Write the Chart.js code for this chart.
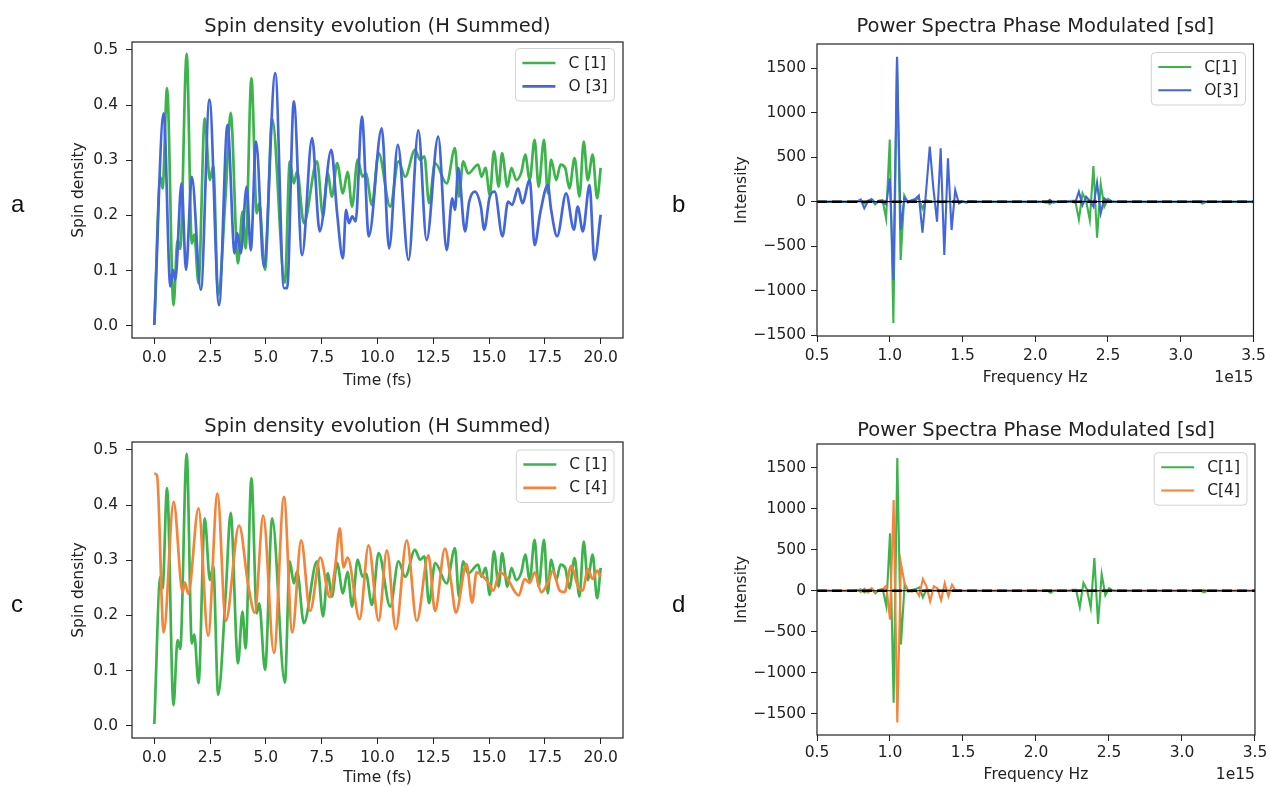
<!DOCTYPE html>
<html><head><meta charset="utf-8">
<script src="https://cdn.jsdelivr.net/npm/chart.js@4.4.0/dist/chart.umd.min.js"></script>
<style>
html,body{margin:0;padding:0;background:#fff;overflow:hidden;width:1270px;height:787px;}
.w{position:absolute;}
.w canvas{display:block;}
.lt{position:absolute;font-family:"Liberation Sans",Arial,sans-serif;font-size:24px;line-height:1;color:#111;}
</style></head><body>
<div class="w" style="left:0;top:0;width:640px;height:395px"><canvas id="ca" width="640" height="395"></canvas></div>
<div class="w" style="left:680px;top:0;width:590px;height:395px"><canvas id="cb" width="590" height="395"></canvas></div>
<div class="w" style="left:0;top:400px;width:640px;height:395px"><canvas id="cc" width="640" height="395"></canvas></div>
<div class="w" style="left:680px;top:400px;width:590px;height:395px"><canvas id="cd" width="590" height="395"></canvas></div>
<div class="lt" style="left:11px;top:192px">a</div>
<div class="lt" style="left:672px;top:192px">b</div>
<div class="lt" style="left:11px;top:592px">c</div>
<div class="lt" style="left:672px;top:592px">d</div>
<script>
// ---------- tick labels ----------
const timeTicks = [0, 2.5, 5, 7.5, 10, 12.5, 15, 17.5, 20];
const spinTicks = [0, 0.1, 0.2, 0.3, 0.4, 0.5];
const freqTicks = [0.5, 1.0, 1.5, 2.0, 2.5, 3.0, 3.5];
const intensityTicks = [-1500, -1000, -500, 0, 500, 1000, 1500];

// ---------- spin density time series (time in fs) ----------
const c1Time = [0, 0.27, 0.37, 0.57, 0.86, 1.04, 1.16, 1.45, 1.68, 1.79, 1.98, 2.26, 2.49, 2.64, 2.86, 3.2, 3.42, 3.75, 3.95, 4.09, 4.35, 4.59, 4.7, 4.96, 5.28, 5.85, 6.07, 6.25, 6.4, 6.7, 7.29, 7.56, 7.77, 7.96, 8.19, 8.45, 8.66, 8.86, 9.11, 9.33, 9.48, 9.75, 10.05, 10.57, 10.94, 11.24, 11.68, 11.91, 12.1, 12.31, 12.58, 13.1, 13.47, 13.65, 13.84, 14.06, 14.51, 14.66, 14.84, 15.03, 15.22, 15.43, 15.58, 15.82, 16.0, 16.22, 16.45, 16.62, 16.82, 17.04, 17.22, 17.46, 17.63, 17.78, 18.01, 18.2, 18.41, 18.6, 18.83, 19.05, 19.24, 19.42, 19.64, 19.84, 20.0];
const c1Spin = [0.003, 0.270, 0.249, 0.431, 0.037, 0.155, 0.139, 0.493, 0.149, 0.165, 0.077, 0.376, 0.264, 0.290, 0.056, 0.240, 0.386, 0.113, 0.207, 0.140, 0.449, 0.204, 0.222, 0.101, 0.376, 0.078, 0.298, 0.258, 0.280, 0.186, 0.298, 0.198, 0.276, 0.234, 0.295, 0.240, 0.279, 0.216, 0.301, 0.270, 0.276, 0.219, 0.313, 0.216, 0.298, 0.270, 0.319, 0.301, 0.307, 0.222, 0.295, 0.258, 0.322, 0.234, 0.298, 0.276, 0.292, 0.270, 0.286, 0.237, 0.316, 0.252, 0.313, 0.252, 0.286, 0.264, 0.279, 0.310, 0.264, 0.337, 0.252, 0.337, 0.240, 0.301, 0.264, 0.292, 0.286, 0.249, 0.304, 0.234, 0.334, 0.264, 0.310, 0.231, 0.286];

const o3Time = [0, 0.42, 0.72, 0.835, 0.94, 1.22, 1.42, 1.68, 2.085, 2.47, 2.9, 3.28, 3.6, 3.72, 3.87, 4.14, 4.32, 4.56, 4.91, 5.42, 5.81, 5.95, 6.25, 6.62, 7.07, 7.41, 7.93, 8.19, 8.45, 8.59, 8.72, 8.87, 9.02, 9.3, 9.61, 10.19, 10.52, 10.91, 11.39, 11.83, 12.2, 12.72, 13.1, 13.35, 13.47, 13.62, 13.92, 14.11, 14.36, 14.63, 14.78, 15.03, 15.25, 15.6, 15.85, 16.03, 16.3, 16.49, 16.82, 17.04, 17.29, 17.63, 17.78, 18.05, 18.45, 18.8, 18.97, 19.2, 19.5, 19.72, 20.0];
const o3Spin = [0.001, 0.385, 0.071, 0.101, 0.083, 0.258, 0.101, 0.270, 0.065, 0.410, 0.037, 0.364, 0.131, 0.168, 0.131, 0.252, 0.137, 0.334, 0.107, 0.458, 0.068, 0.068, 0.407, 0.128, 0.340, 0.171, 0.319, 0.204, 0.122, 0.210, 0.186, 0.198, 0.189, 0.379, 0.162, 0.358, 0.140, 0.328, 0.119, 0.354, 0.155, 0.343, 0.137, 0.231, 0.210, 0.286, 0.171, 0.225, 0.243, 0.216, 0.174, 0.234, 0.243, 0.162, 0.225, 0.219, 0.249, 0.222, 0.264, 0.146, 0.204, 0.255, 0.210, 0.162, 0.240, 0.174, 0.216, 0.171, 0.255, 0.119, 0.201];

const c4Time = [0, 0.12, 0.42, 0.865, 1.27, 1.37, 1.52, 1.98, 2.41, 2.83, 3.2, 3.8, 4.2, 4.5, 4.88, 5.36, 5.81, 6.18, 6.58, 6.98, 7.44, 7.86, 8.1, 8.31, 8.48, 8.66, 9.2, 9.6, 10.05, 10.42, 10.82, 11.31, 11.76, 12.28, 12.58, 13.02, 13.29, 13.51, 13.99, 14.24, 14.44, 14.96, 15.19, 15.48, 15.78, 16.33, 16.59, 16.82, 17.04, 17.34, 17.64, 17.86, 18.16, 18.38, 18.68, 18.97, 19.2, 19.42, 19.64, 19.84, 20.0];
const c4Spin = [0.457, 0.454, 0.169, 0.406, 0.242, 0.260, 0.239, 0.394, 0.163, 0.421, 0.190, 0.363, 0.257, 0.205, 0.381, 0.132, 0.415, 0.169, 0.336, 0.208, 0.305, 0.233, 0.287, 0.358, 0.287, 0.305, 0.193, 0.327, 0.190, 0.318, 0.175, 0.336, 0.190, 0.309, 0.208, 0.321, 0.263, 0.205, 0.293, 0.223, 0.278, 0.260, 0.245, 0.278, 0.269, 0.236, 0.266, 0.259, 0.278, 0.242, 0.260, 0.281, 0.245, 0.242, 0.290, 0.254, 0.245, 0.284, 0.266, 0.281, 0.270];

// ---------- phase-modulated power spectra (frequency in 1e15 Hz) ----------
const freq = [0.5, 0.75, 0.775, 0.8, 0.825, 0.85, 0.875, 0.9, 0.925, 0.95, 0.975, 1.0, 1.025, 1.05, 1.075, 1.1, 1.125, 1.15, 1.175, 1.2, 1.225, 1.25, 1.275, 1.3, 1.325, 1.35, 1.375, 1.4, 1.425, 1.45, 1.475, 1.5, 1.525, 1.55, 1.6, 2.05, 2.075, 2.1, 2.125, 2.15, 2.225, 2.25, 2.275, 2.3, 2.325, 2.35, 2.375, 2.4, 2.425, 2.45, 2.475, 2.5, 2.525, 2.55, 3.1, 3.125, 3.15, 3.175, 3.5];
const c1Power = [0, 0, 5, 15, -20, 10, 20, -30, 10, 20, -190, 700, -1365, 1620, -656, 70, -10, 10, 20, 40, -80, 15, 5, 0, 5, -5, 0, 5, 0, 5, 0, 0, 0, 0, 0, 0, 5, -25, 5, 0, 0, 10, 10, -200, 95, 10, -205, 400, -405, 200, -55, 30, 5, 0, 0, 5, -20, 0, 0];
const o3Power = [0, 0, 0, 25, -75, 5, 30, -10, 5, -10, -30, 262, -881, 1631, -319, 40, 0, 15, 30, 70, -349, 120, 619, 150, -225, 600, -600, 488, -319, 131, -20, 5, -10, 5, 0, 0, -10, 20, -10, 0, 5, 0, -10, 113, -38, 56, 10, -56, 214, -131, 38, 5, 0, 0, 0, -5, 5, 0, 0];
const c4Power = [0, 0, 10, -15, 24, -20, 30, -15, 10, 15, 60, -352, 1106, -1608, 336, 93, 0, -10, 10, -61, 142, 53, -130, 53, 30, -117, 93, -69, 73, 0, 5, 0, 0, 0, 0, 0, 0, 5, 0, 0, 0, 0, 0, 5, 0, -5, 0, 5, 0, -5, 0, 0, 0, 0, 0, 5, 10, 0, 0];
const zeroLineFreq = [0.5, 3.5];
const zeroLineVal = [0, 0];

// ---------- styling ----------
const FONT = "'DejaVu Sans', sans-serif";
const GREEN = '#3cb44b', BLUE = '#4466dd', ORANGE = '#f5843a';
const TXT = '#222';

function pts(xs, ys) { return xs.map((x, i) => ({x: x, y: ys[i]})); }
function fmt1(v) { return v.toFixed(1); }
function fmtInt(v) { return v < 0 ? '\u2212' + Math.abs(v) : String(v); }

const mplPlugin = {
  id: 'mpl',
  afterDatasetsDraw(chart, args, opts) {
    const ctx = chart.ctx, a = chart.chartArea;
    ctx.save();
    ctx.strokeStyle = '#222'; ctx.lineWidth = 1.2;
    ctx.strokeRect(a.left, a.top, a.right - a.left, a.bottom - a.top);
    // axes title, centred over the plotting area
    ctx.font = '19.5px ' + FONT; ctx.fillStyle = TXT;
    ctx.textAlign = 'center'; ctx.textBaseline = 'alphabetic';
    ctx.fillText(opts.title, (a.left + a.right) / 2, opts.titleY);
    if (opts.legend) {
      const L = opts.legend;
      ctx.font = '15.5px ' + FONT;
      let tw = 0;
      L.items.forEach(it => { tw = Math.max(tw, ctx.measureText(it.text).width); });
      const w = 7 + 33 + 13 + tw + 7, h = 52.5;
      const x0 = a.right - L.dx - w, y0 = a.top + L.dy;
      ctx.beginPath();
      if (ctx.roundRect) ctx.roundRect(x0, y0, w, h, 4); else ctx.rect(x0, y0, w, h);
      ctx.fillStyle = 'rgba(255,255,255,0.85)'; ctx.fill();
      ctx.strokeStyle = '#d2d2d2'; ctx.lineWidth = 1; ctx.stroke();
      L.items.forEach((it, i) => {
        const yc = y0 + 14.5 + i * 23.3;
        ctx.beginPath(); ctx.moveTo(x0 + 7, yc); ctx.lineTo(x0 + 40, yc);
        ctx.strokeStyle = it.color; ctx.lineWidth = it.lw; ctx.stroke();
        ctx.fillStyle = TXT; ctx.textAlign = 'left'; ctx.textBaseline = 'middle';
        ctx.fillText(it.text, x0 + 53, yc + 0.5);
      });
    }
    if (opts.offsetText) {
      ctx.font = '15.5px ' + FONT; ctx.fillStyle = TXT;
      ctx.textAlign = 'right'; ctx.textBaseline = 'middle';
      ctx.fillText(opts.offsetText, a.right, opts.offsetY);
    }
    ctx.restore();
  }
};

function makeChart(id, c) {
  return new Chart(document.getElementById(id), {
    type: 'line',
    data: {datasets: c.datasets},
    plugins: [mplPlugin],
    options: {
      responsive: false, animation: false, events: [],
      layout: {padding: {left: 0, right: c.padRight, top: c.padTop, bottom: 0}},
      elements: {point: {radius: 0}},
      plugins: {
        legend: {display: false}, tooltip: {enabled: false}, title: {display: false},
        mpl: {legend: c.legend, offsetText: c.offsetText, offsetY: c.offsetY, title: c.title, titleY: c.titleY}
      },
      scales: {
        x: {
          type: 'linear', min: c.xMin, max: c.xMax,
          afterBuildTicks: s => { s.ticks = c.xTicks.map(v => ({value: v})); },
          afterFit: s => { s.height = c.xHeight; },
          ticks: {autoSkip: false, maxRotation: 0, padding: c.xTickPad, color: TXT,
            font: {family: FONT, size: 15.5, lineHeight: 1.2}, callback: v => c.xFmt(v)},
          grid: {display: true, drawOnChartArea: false, drawTicks: true, tickLength: 6, color: '#222', lineWidth: 1},
          border: {display: false},
          title: {display: true, text: c.xTitle, color: TXT,
            font: {family: FONT, size: 15.5, lineHeight: 1.2}, padding: {top: 0, bottom: c.xTitlePad}}
        },
        y: {
          type: 'linear', min: c.yMin, max: c.yMax,
          afterBuildTicks: s => { s.ticks = c.yTicks.map(v => ({value: v})); },
          afterFit: s => { s.width = c.yWidth; },
          ticks: {autoSkip: false, padding: c.yTickPad, color: TXT,
            font: {family: FONT, size: 15.5, lineHeight: 1.2}, callback: v => c.yFmt(v)},
          grid: {display: true, drawOnChartArea: false, drawTicks: true, tickLength: 6, color: '#222', lineWidth: 1},
          border: {display: false},
          title: {display: true, text: c.yTitle, color: TXT,
            font: {family: FONT, size: 15.5, lineHeight: 1.2}, padding: {top: c.yTitlePad, bottom: 0}}
        }
      }
    }
  });
}

function spinSet(label, xs, ys, color, order) {
  return {label: label, data: pts(xs, ys), borderColor: color, borderWidth: 2.7,
    cubicInterpolationMode: 'monotone', fill: false, order: order};
}
function specSet(label, xs, ys, color, order) {
  return {label: label, data: pts(xs, ys), borderColor: color, borderWidth: 2.1,
    tension: 0, fill: false, order: order};
}
function zeroSets() {
  return [
    {label: 'zero', data: pts(zeroLineFreq, zeroLineVal), borderColor: '#000', borderWidth: 1.2, order: 1},
    {label: 'zero dashed', data: pts(zeroLineFreq, zeroLineVal), borderColor: '#000', borderWidth: 2.4, borderDash: [10, 5], order: 0}
  ];
}

const spinBase = {xMin: -1, xMax: 21, yMin: -0.0225, yMax: 0.5145, xTicks: timeTicks, yTicks: spinTicks,
  xFmt: fmt1, yFmt: fmt1, title: 'Spin density evolution (H Summed)', xTitle: 'Time (fs)', yTitle: 'Spin density',
  padRight: 17, padTop: 42, titleY: 31.5, yWidth: 132, xHeight: 57, yTitlePad: 69.7, yTickPad: 8, xTickPad: 5};
const specBase = {xMin: 0.5, xMax: 3.5, xTicks: freqTicks, yTicks: intensityTicks,
  xFmt: fmt1, yFmt: fmtInt, title: 'Power Spectra Phase Modulated [sd]', xTitle: 'Frequency Hz', yTitle: 'Intensity',
  padRight: 13, padTop: 44, yWidth: 137, yTitlePad: 52.4, yTickPad: 5, offsetText: '1e15'};

makeChart('ca', Object.assign({}, spinBase, {
  xTitlePad: 4.7,
  datasets: [spinSet('C [1]', c1Time, c1Spin, GREEN, 2), spinSet('O [3]', o3Time, o3Spin, BLUE, 1)],
  legend: {dx: 8.5, dy: 6.5, items: [{text: 'C [1]', color: GREEN, lw: 2.7}, {text: 'O [3]', color: BLUE, lw: 2.7}]}
}));
makeChart('cc', Object.assign({}, spinBase, {
  xTitlePad: 7.7,
  datasets: [spinSet('C [1]', c1Time, c1Spin, GREEN, 2), spinSet('C [4]', c4Time, c4Spin, ORANGE, 1)],
  legend: {dx: 9, dy: 8, items: [{text: 'C [1]', color: GREEN, lw: 2.7}, {text: 'C [4]', color: ORANGE, lw: 2.7}]}
}));
makeChart('cb', Object.assign({}, specBase, {
  yMin: -1511, yMax: 1774, xHeight: 59, xTitlePad: 7.7, xTickPad: 4.2, offsetY: 378, titleY: 31.5,
  datasets: [specSet('C[1]', freq, c1Power, GREEN, 3), specSet('O[3]', freq, o3Power, BLUE, 2)].concat(zeroSets()),
  legend: {dx: 8, dy: 8.5, items: [{text: 'C[1]', color: GREEN, lw: 2.1}, {text: 'O[3]', color: BLUE, lw: 2.1}]}
}));
makeChart('cd', Object.assign({}, specBase, {
  yMin: -1760, yMax: 1790, xHeight: 60, xTitlePad: 10.7, xTickPad: 2.7, offsetY: 375, titleY: 35.5,
  datasets: [specSet('C[1]', freq, c1Power, GREEN, 3), specSet('C[4]', freq, c4Power, ORANGE, 2)].concat(zeroSets()),
  legend: {dx: 8, dy: 8.7, items: [{text: 'C[1]', color: GREEN, lw: 2.1}, {text: 'C[4]', color: ORANGE, lw: 2.1}]}
}));
</script>
</body></html>
